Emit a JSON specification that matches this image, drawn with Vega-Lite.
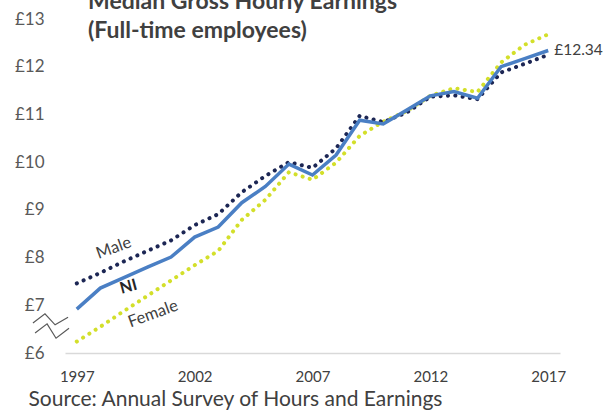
{
  "$schema": "https://vega.github.io/schema/vega-lite/v6.json",
  "width": 495,
  "height": 334,
  "autosize": "none",
  "padding": {"left": 65, "top": 19, "right": 44, "bottom": 57},
  "background": "white",
  "config": {
    "view": {"stroke": null},
    "font": "Lato",
    "locale": {"number": {"decimal": ".", "thousands": ",", "grouping": [3], "currency": ["£", ""]}}
  },
  "title": {
    "text": ["Median Gross Hourly Earnings", "(Full-time employees)"],
    "anchor": "start",
    "frame": "group",
    "orient": "top",
    "offset": -33,
    "dx": 23,
    "font": "Lato",
    "fontSize": 23,
    "fontWeight": "bold",
    "color": "#404040",
    "lineHeight": 29
  },
  "datasets": {
    "earn": [
      {"year": 1997, "series": "NI", "value": 6.92},
      {"year": 1998, "series": "NI", "value": 7.36},
      {"year": 1999, "series": "NI", "value": 7.58},
      {"year": 2000, "series": "NI", "value": 7.8},
      {"year": 2001, "series": "NI", "value": 8.01},
      {"year": 2002, "series": "NI", "value": 8.43},
      {"year": 2003, "series": "NI", "value": 8.64},
      {"year": 2004, "series": "NI", "value": 9.15},
      {"year": 2005, "series": "NI", "value": 9.49},
      {"year": 2006, "series": "NI", "value": 9.96},
      {"year": 2007, "series": "NI", "value": 9.73},
      {"year": 2008, "series": "NI", "value": 10.15},
      {"year": 2009, "series": "NI", "value": 10.88},
      {"year": 2010, "series": "NI", "value": 10.8},
      {"year": 2011, "series": "NI", "value": 11.09},
      {"year": 2012, "series": "NI", "value": 11.39},
      {"year": 2013, "series": "NI", "value": 11.48},
      {"year": 2014, "series": "NI", "value": 11.34},
      {"year": 2015, "series": "NI", "value": 12.0},
      {"year": 2016, "series": "NI", "value": 12.17},
      {"year": 2017, "series": "NI", "value": 12.34},
      {"year": 1997, "series": "Male", "value": 7.46},
      {"year": 1998, "series": "Male", "value": 7.68},
      {"year": 1999, "series": "Male", "value": 7.92},
      {"year": 2000, "series": "Male", "value": 8.14},
      {"year": 2001, "series": "Male", "value": 8.36},
      {"year": 2002, "series": "Male", "value": 8.68},
      {"year": 2003, "series": "Male", "value": 8.91},
      {"year": 2004, "series": "Male", "value": 9.37},
      {"year": 2005, "series": "Male", "value": 9.71},
      {"year": 2006, "series": "Male", "value": 10.0},
      {"year": 2007, "series": "Male", "value": 9.88},
      {"year": 2008, "series": "Male", "value": 10.29},
      {"year": 2009, "series": "Male", "value": 10.97},
      {"year": 2010, "series": "Male", "value": 10.84},
      {"year": 2011, "series": "Male", "value": 11.04},
      {"year": 2012, "series": "Male", "value": 11.37},
      {"year": 2013, "series": "Male", "value": 11.4},
      {"year": 2014, "series": "Male", "value": 11.32},
      {"year": 2015, "series": "Male", "value": 11.88},
      {"year": 2016, "series": "Male", "value": 12.06},
      {"year": 2017, "series": "Male", "value": 12.25},
      {"year": 1997, "series": "Female", "value": 6.24},
      {"year": 1998, "series": "Female", "value": 6.55},
      {"year": 1999, "series": "Female", "value": 6.88},
      {"year": 2000, "series": "Female", "value": 7.2},
      {"year": 2001, "series": "Female", "value": 7.52},
      {"year": 2002, "series": "Female", "value": 7.84},
      {"year": 2003, "series": "Female", "value": 8.14},
      {"year": 2004, "series": "Female", "value": 8.79},
      {"year": 2005, "series": "Female", "value": 9.21},
      {"year": 2006, "series": "Female", "value": 9.79},
      {"year": 2007, "series": "Female", "value": 9.63},
      {"year": 2008, "series": "Female", "value": 9.99},
      {"year": 2009, "series": "Female", "value": 10.55},
      {"year": 2010, "series": "Female", "value": 10.85},
      {"year": 2011, "series": "Female", "value": 11.07},
      {"year": 2012, "series": "Female", "value": 11.39},
      {"year": 2013, "series": "Female", "value": 11.55},
      {"year": 2014, "series": "Female", "value": 11.47},
      {"year": 2015, "series": "Female", "value": 12.09},
      {"year": 2016, "series": "Female", "value": 12.46},
      {"year": 2017, "series": "Female", "value": 12.68}
    ],
    "brk": [
      {"g": "a", "year": 1995.14, "value": 6.63},
      {"g": "a", "year": 1995.65, "value": 6.82},
      {"g": "a", "year": 1996.08, "value": 6.59},
      {"g": "a", "year": 1996.63, "value": 6.75},
      {"g": "b", "year": 1995.23, "value": 6.42},
      {"g": "b", "year": 1995.74, "value": 6.61},
      {"g": "b", "year": 1996.12, "value": 6.31},
      {"g": "b", "year": 1996.67, "value": 6.52}
    ]
  },
  "encoding": {
    "x": {
      "field": "year",
      "type": "quantitative",
      "scale": {"domain": [1996.5, 2017.5], "nice": false, "zero": false},
      "axis": {
        "values": [1997, 2002, 2007, 2012, 2017],
        "format": "d",
        "grid": false,
        "ticks": false,
        "domainColor": "#d9d9d9",
        "domainWidth": 1.5,
        "labelFont": "Lato",
        "labelFontSize": 15,
        "labelColor": "#404040",
        "labelPadding": 16,
        "title": "Source: Annual Survey of Hours and Earnings",
        "titleAnchor": "start",
        "titleAlign": "left",
        "titleX": -37,
        "titleY": 52,
        "titleBaseline": "alphabetic",
        "titleFont": "Lato",
        "titleFontSize": 21,
        "titleFontWeight": "normal",
        "titleColor": "#404040"
      }
    },
    "y": {
      "field": "value",
      "type": "quantitative",
      "scale": {"domain": [6, 13], "nice": false, "zero": false},
      "axis": {
        "values": [6, 7, 8, 9, 10, 11, 12, 13],
        "format": "$d",
        "grid": false,
        "ticks": false,
        "domain": false,
        "labelFont": "Lato",
        "labelFontSize": 17,
        "labelColor": "#595959",
        "labelPadding": 21,
        "title": null
      }
    }
  },
  "layer": [
    {
      "data": {"name": "brk"},
      "mark": {"type": "line", "clip": false, "color": "#595959", "strokeWidth": 1.2},
      "encoding": {"detail": {"field": "g"}}
    },
    {
      "data": {"name": "earn"},
      "transform": [{"filter": "datum.series == 'Female'"}],
      "mark": {"type": "line", "color": "#d3df2a", "strokeWidth": 4, "strokeDash": [0.1, 7.3], "strokeCap": "round"}
    },
    {
      "data": {"name": "earn"},
      "transform": [{"filter": "datum.series == 'Male'"}],
      "mark": {"type": "line", "color": "#1c2654", "strokeWidth": 4, "strokeDash": [0.1, 7.3], "strokeCap": "round"}
    },
    {
      "data": {"name": "earn"},
      "transform": [{"filter": "datum.series == 'NI'"}],
      "mark": {"type": "line", "color": "#4a7fc4", "strokeWidth": 3.5}
    },
    {
      "data": {"name": "earn"},
      "transform": [{"filter": "datum.series == 'Male' && datum.year == 1999"}],
      "mark": {"type": "text", "angle": 340, "dx": -5, "dy": -16, "fontSize": 16.5, "color": "#404040", "font": "Lato"},
      "encoding": {"text": {"field": "series"}}
    },
    {
      "data": {"name": "earn"},
      "transform": [{"filter": "datum.series == 'NI' && datum.year == 1999"}],
      "mark": {"type": "text", "angle": 345, "dx": 2, "dy": 10, "fontSize": 16, "fontWeight": "bold", "color": "#262626", "font": "Lato"},
      "encoding": {"text": {"field": "series"}}
    },
    {
      "data": {"name": "earn"},
      "transform": [{"filter": "datum.series == 'Female' && datum.year == 2000"}],
      "mark": {"type": "text", "angle": 340, "dx": -1, "dy": 19, "fontSize": 16.5, "color": "#404040", "font": "Lato"},
      "encoding": {"text": {"field": "series"}}
    },
    {
      "data": {"name": "earn"},
      "transform": [{"filter": "datum.series == 'NI' && datum.year == 2017"}],
      "mark": {"type": "text", "align": "left", "dx": 6, "fontSize": 15.5, "color": "#404040", "font": "Lato"},
      "encoding": {"text": {"field": "value", "type": "quantitative", "format": "$.2f"}}
    }
  ]
}
